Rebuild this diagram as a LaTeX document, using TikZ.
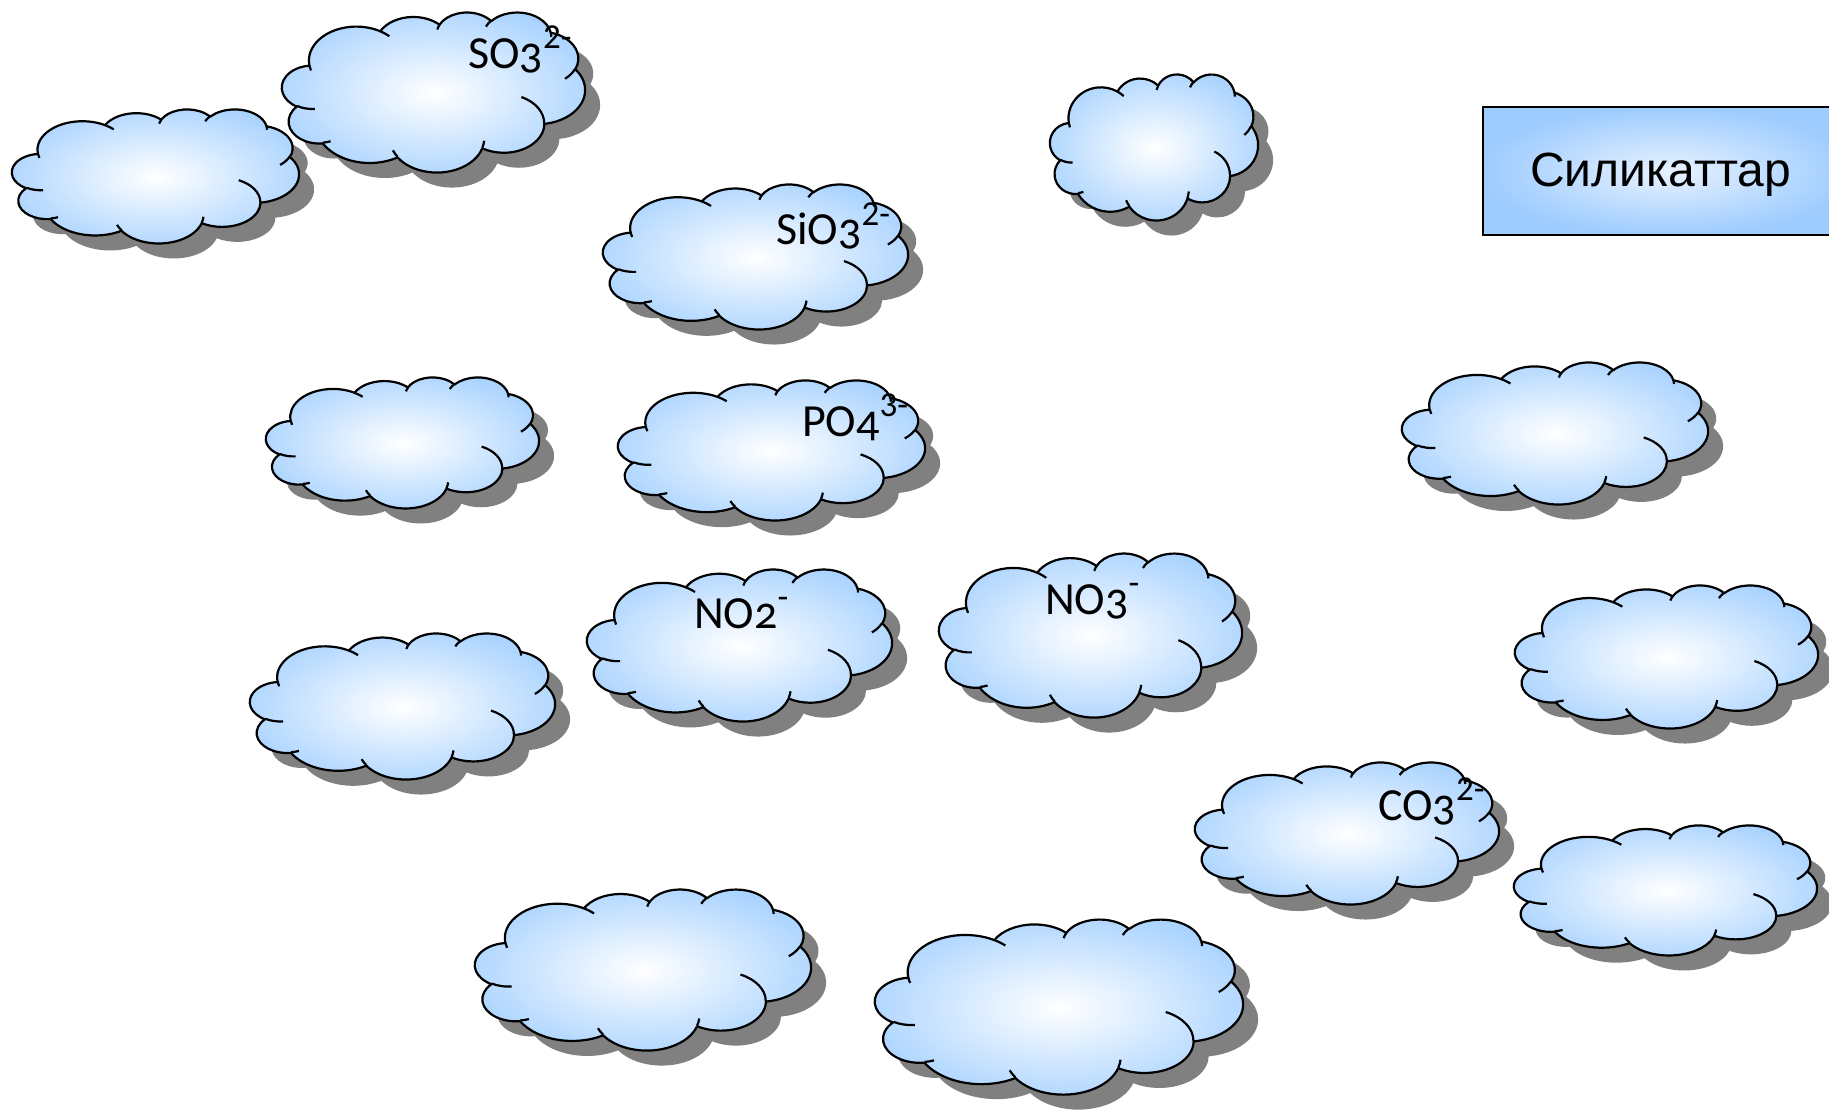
\documentclass[tikz,border=0pt]{standalone}
\usepackage{fontspec}
\setmainfont{Carlito}
\newfontfamily\osfont[Numbers=OldStyle]{Carlito}
\newfontfamily\arialf{Liberation Sans}
\definecolor{cloudblue}{RGB}{160,206,255}
\definecolor{boxblue}{RGB}{158,204,255}
\definecolor{boxlight}{RGB}{232,242,255}
\definecolor{shadowgray}{RGB}{128,128,128}
\pgfdeclareradialshading{cloudshade}{\pgfpoint{0bp}{0bp}}{color(0bp)=(white); color(30bp)=(cloudblue); color(50bp)=(cloudblue)}
% elliptical arc in DrawingML style (visual angles)
\newcommand\cldarc[4]{arc[x radius=#1, y radius=#2, start angle={atan2(#1*sin(#3),#2*cos(#3))}, delta angle={mod(atan2(#1*sin(#3+#4),#2*cos(#3+#4))-atan2(#1*sin(#3),#2*cos(#3))+720,360)}]}
\def\cloudpath{(3.900,14.370) \cldarc{6.753}{9.190}{-190.4875}{123.7805} \cldarc{5.333}{7.267}{-144.1024}{89.9452} \cldarc{4.365}{5.945}{-145.8079}{99.7230} \cldarc{4.857}{6.595}{-130.9861}{117.2417} \cldarc{5.333}{7.273}{-78.7089}{109.0269} \cldarc{6.775}{9.220}{-46.2673}{130.2690} \cldarc{5.785}{7.867}{0.6250}{114.0333} \cldarc{6.752}{9.215}{22.4516}{115.1726} \cldarc{7.720}{10.543}{66.2426}{75.7110} \cldarc{4.360}{5.918}{-274.9421}{146.7356} \cldarc{4.345}{5.945}{-246.8285}{152.5189} -- cycle}
\def\cloudinner{(4.693,26.177) \cldarc{4.345}{5.945}{86.7420}{26.4295} (6.928,34.899) \cldarc{4.360}{5.918}{73.6105}{11.4475} (16.478,39.090) \cldarc{6.752}{9.215}{137.6242}{14.0811} (28.827,34.751) \cldarc{6.752}{9.215}{6.4533}{15.9984} (34.129,22.954) \cldarc{5.785}{7.867}{-70.2924}{70.9174} (41.798,15.354) \cldarc{5.333}{7.273}{30.3180}{27.7515} (38.324,5.426) \cldarc{4.857}{6.595}{-13.7443}{14.8589} (29.078,3.952) \cldarc{4.857}{6.595}{-149.1815}{18.1954} (22.141,4.720) \cldarc{4.365}{5.945}{-163.4943}{17.6864} (14.000,5.192) \cldarc{6.753}{9.190}{-66.7070}{12.3194} (4.127,15.789) \cldarc{6.753}{9.190}{157.6544}{11.8582}}
\tikzset{
  cloudline/.style={line width=2.2pt, line join=round},
  ion/.style={anchor=base west, inner sep=0pt, font=\fontsize{46}{52}\selectfont},
  silbox/.style={rectangle, draw, line width=2.4pt, anchor=north west, minimum width=370pt, minimum height=128pt, inner sep=0pt, inner color=boxlight, outer color=boxblue},
}
\newcommand\mkcloud[4]{%
  \begin{scope}[shift={(#1,#2)}, x=#3pt/43.2, y=-#4pt/43.2]
    \fill[shadowgray, shift={(15pt,-15pt)}] \cloudpath;
    \draw[cloudline, shading=cloudshade] \cloudpath;
    \draw[cloudline] \cloudinner;
  \end{scope}}
\newcommand\osd[1]{{\osfont #1}}
\newcommand\sups[1]{\raisebox{20pt}{\fontsize{35}{35}\selectfont #1}}
\begin{document}
\begin{tikzpicture}[x=1pt,y=-1pt]
\fill[white] (0,0) rectangle (1829,1110);
\useasboundingbox (0,0) rectangle (1829,1110);
% clouds: x0 y0 w h
\mkcloud{12}{109}{287}{134}
\mkcloud{282}{12}{303}{160}
\mkcloud{1050}{74}{208}{146}
\mkcloud{603}{184}{305}{145}
\mkcloud{266}{377}{273}{131}
\mkcloud{618}{380}{307}{140}
\mkcloud{1402}{362}{306}{142}
\mkcloud{587}{569}{305}{152}
\mkcloud{939}{553}{303}{164}
\mkcloud{250}{633}{305}{146}
\mkcloud{1515}{585}{303}{143}
\mkcloud{1195}{762}{304}{142}
\mkcloud{1514}{825}{303}{130}
\mkcloud{475}{889}{336}{161}
\mkcloud{875}{919}{368}{175}
% labels
\node[ion] (so3) at (468,69) {SO\osd{3}\sups{2-}};
\node[ion] (sio3) at (776,245) {SiO\osd{3}\sups{2-}};
\node[ion] (po4) at (802,436) {PO\osd{4}\sups{3-}};
\node[ion] (no2) at (694,628) {NO\osd{2}\sups{-}};
\node[ion] (no3) at (1045,614) {NO\osd{3}\sups{-}};
\node[ion] (co3) at (1378,820) {CO\osd{3}\sups{2-}};
% box
\node[silbox] (sil) at (1482,106) {};
\node[anchor=base west, inner sep=0pt, font=\arialf\fontsize{48}{54}\selectfont] (silt) at (1530,187) {Силикаттар};
\end{tikzpicture}
\end{document}
